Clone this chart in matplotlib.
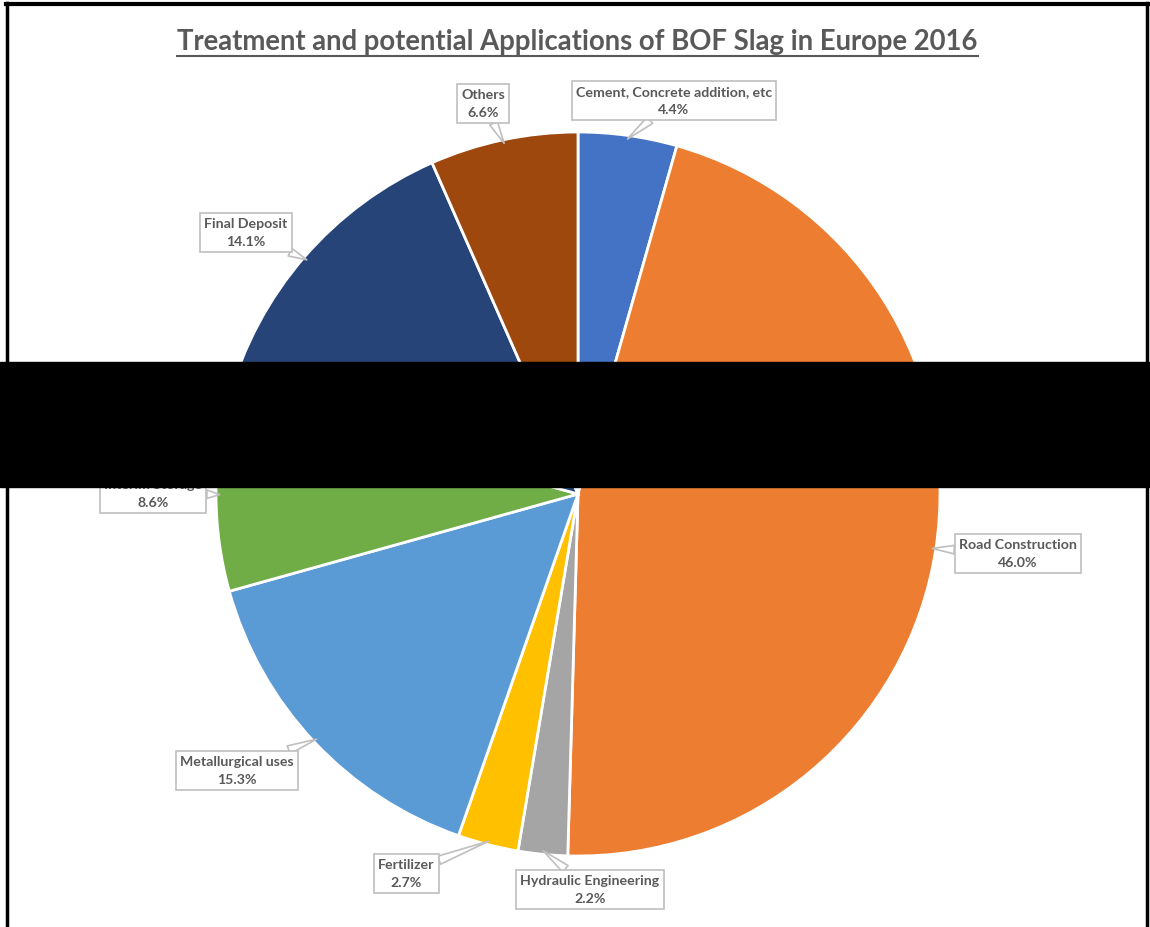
import numpy as np
import matplotlib.pyplot as plt
from matplotlib.lines import Line2D
from matplotlib.patches import Rectangle

# Data slag usage (%)
categories = ["Cement, Concrete addition, etc", "Road Construction", "Hydraulic Engineering",
              "Fertilizer", "Metallurgical uses", "Interim Storage", "Final Deposit", "Others"]
shares = [4.4, 46.0, 2.2, 2.7, 15.3, 8.6, 14.1, 6.6]
colors = ["#4472C4", "#ED7D31", "#A5A5A5", "#FFC000", "#5B9BD5", "#70AD47", "#264478", "#9E480E"]

# Posisi kotak label (piksel dari kiri atas)
label_pos = [(674, 101), (1018, 554), (590, 890), (406, 874),
             (237, 771), (153, 494), (246, 233), (483, 104)]

W, H = 1150, 928
fig = plt.figure(figsize=(W / 100, H / 100), dpi=100)
ax = fig.add_axes([0, 0, 1, 1])

cx, cy, r = 578, H - 495, 362
wedges, _ = ax.pie(shares, colors=colors, center=(cx, cy), radius=r, startangle=90,
                   counterclock=False, frame=True,
                   wedgeprops=dict(edgecolor="white", linewidth=2))
ax.set_xlim(0, W)
ax.set_ylim(0, H)
ax.set_aspect("equal")
ax.axis("off")

# Label dengan callout ke tepi pie
for w, name, val, (lx, ly) in zip(wedges, categories, shares, label_pos):
    mid = np.deg2rad((w.theta1 + w.theta2) / 2)
    ex = cx + 0.99 * r * np.cos(mid)
    ey = cy + 0.99 * r * np.sin(mid)
    ax.annotate(f"{name}\n{val:.1f}%", xy=(ex, ey), xytext=(lx, H - ly),
                ha="center", va="center", fontsize=10.2, fontweight="bold",
                color="#595959", family="Lato", linespacing=1.65,
                bbox=dict(boxstyle="square,pad=0.3", fc="white", ec="#BFBFBF", lw=1.2),
                arrowprops=dict(arrowstyle="wedge,tail_width=0.6,shrink_factor=0.5",
                                fc="white", ec="#BFBFBF", lw=1.2, shrinkA=0, shrinkB=0),
                zorder=5)

# Judul bergaris bawah
ax.text(577, H - 42, "Treatment and potential Applications of BOF Slag in Europe 2016",
        ha="center", va="center", fontsize=19.8, fontweight="bold",
        color="#595959", family="Lato")
ax.add_line(Line2D([177, 978], [H - 57, H - 57], color="#595959", lw=1.5))

# Bingkai hitam
fig.add_artist(Line2D([7 / W, 7 / W], [0, 1 - 4 / H], transform=fig.transFigure, color="black", lw=2.5))
fig.add_artist(Line2D([1147 / W, 1147 / W], [0, 1 - 4 / H], transform=fig.transFigure, color="black", lw=2.5))
fig.add_artist(Line2D([6 / W, 1148 / W], [1 - 5 / H, 1 - 5 / H], transform=fig.transFigure, color="black", lw=3))

# Pita hitam horizontal
ax.add_patch(Rectangle((0, H - 488), W, 125, color="black", zorder=10))

fig.savefig("out.png", dpi=100)
